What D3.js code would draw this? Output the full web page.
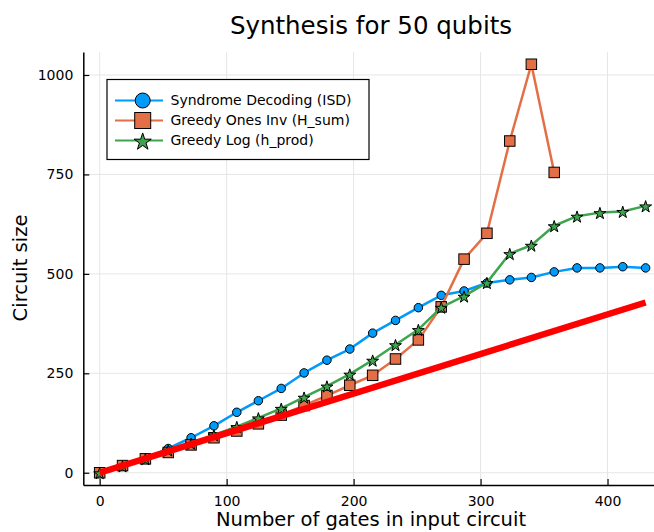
<!DOCTYPE html>
<html>
<head>
<meta charset="utf-8">
<script src="https://cdn.jsdelivr.net/npm/d3@7.9.0/dist/d3.min.js"></script>
<style>
  body { margin: 0; background: #fff; }
  svg { display: block; font-family: "DejaVu Sans", sans-serif; }
</style>
</head>
<body>
<svg id="chart" width="654" height="532"></svg>
<script>
// ---- data ----
const gates = [0, 18, 36, 54, 72, 90, 108, 125, 143, 161, 179, 197, 215,
               233, 251, 269, 287, 305, 323, 340, 358, 376, 394, 412, 430];

const isdSize = [0, 17, 34, 61, 88, 118, 152, 181, 212, 251, 283, 311, 351,
                 383, 415, 446, 457, 477, 485, 491, 505, 515, 515, 518, 515];

const onesInvSize = [0, 18, 35, 51, 70, 88, 105, 123, 145, 169, 194, 220, 245,
                     286, 334, 417, 537, 602, 834, 1027, 755];

const logSize = [0, 17, 35, 57, 74, 95, 116, 138, 162, 190, 218, 248, 283,
                 322, 360, 416, 444, 478, 551, 572, 621, 645, 654, 657, 671];

const refX = [0, 430];
const refY = [0, 428];

const xTicks = [0, 100, 200, 300, 400];
const yTicks = [0, 250, 500, 750, 1000];

const series = [
  { name: "Syndrome Decoding (ISD)", color: "#009AFA", marker: "circle", y: isdSize },
  { name: "Greedy Ones Inv (H_sum)", color: "#E36F47", marker: "square", y: onesInvSize },
  { name: "Greedy Log (h_prod)", color: "#3EA44E", marker: "star", y: logSize }
];

// ---- layout ----
const svg = d3.select("#chart");
const plotLeft = 83.3, plotBottom = 485, plotTop = 52, plotRight = 662;

// Plots.jl style: widen data range by 3% each side
const x = d3.scaleLinear().domain([-12.9, 442.9]).range([plotLeft, plotRight]);
const y = d3.scaleLinear().domain([-30.8, 1057.8]).range([plotBottom, plotTop]);

// grid
svg.append("g")
  .selectAll("line")
  .data(xTicks)
  .join("line")
  .attr("x1", d => x(d)).attr("x2", d => x(d))
  .attr("y1", plotTop).attr("y2", plotBottom)
  .attr("stroke", "#e6e6e6").attr("stroke-width", 1);

svg.append("g")
  .selectAll("line")
  .data(yTicks)
  .join("line")
  .attr("x1", plotLeft).attr("x2", plotRight)
  .attr("y1", d => y(d)).attr("y2", d => y(d))
  .attr("stroke", "#e6e6e6").attr("stroke-width", 1);

// axes
const xAxis = svg.append("g")
  .attr("transform", `translate(0,${plotBottom})`)
  .call(d3.axisBottom(x).tickValues(xTicks).tickSize(-6).tickPadding(11).tickSizeOuter(0));
const yAxis = svg.append("g")
  .attr("transform", `translate(${plotLeft},0)`)
  .call(d3.axisLeft(y).tickValues(yTicks).tickFormat(d3.format("d"))
    .tickSize(-6).tickPadding(10).tickSizeOuter(0));

[xAxis, yAxis].forEach(a => {
  a.select(".domain").attr("stroke", "#000").attr("stroke-width", 1.5);
  a.selectAll(".tick line").attr("stroke", "#000").attr("stroke-width", 1.2);
  a.selectAll(".tick text")
    .attr("fill", "#000")
    .style("font-family", "DejaVu Sans, sans-serif")
    .style("font-size", "14px");
});

// markers
const star = d3.symbol().type(d3.symbolStar);
function drawMarker(g, type, cx, cy, s) {
  if (type === "circle") {
    g.append("circle").attr("cx", cx).attr("cy", cy).attr("r", s / 2);
  } else if (type === "square") {
    g.append("rect").attr("x", cx - s / 2).attr("y", cy - s / 2)
      .attr("width", s).attr("height", s);
  } else {
    // s = outer diameter of the star
    g.append("path").attr("transform", `translate(${cx},${cy + s * 0.08})`)
      .attr("d", star.size((s / 2) * (s / 2) / 0.8908)());
  }
}
const markerSize = { circle: 8.5, square: 10.5, star: 12.5 };

const line = d3.line().x(d => x(d[0])).y(d => y(d[1]));

series.forEach(s => {
  const pts = s.y.map((v, i) => [gates[i], v]);
  svg.append("path")
    .attr("d", line(pts))
    .attr("fill", "none")
    .attr("stroke", s.color)
    .attr("stroke-width", 2.5)
    .attr("stroke-linejoin", "round");
  const mg = svg.append("g")
    .attr("fill", s.color)
    .attr("stroke", "#000")
    .attr("stroke-width", 1);
  pts.forEach(p => drawMarker(mg, s.marker, x(p[0]), y(p[1]), markerSize[s.marker]));
});

// reference line
svg.append("path")
  .attr("d", line(refX.map((v, i) => [v, refY[i]])))
  .attr("fill", "none")
  .attr("stroke", "#FF0000")
  .attr("stroke-width", 6.5);

// legend
const lg = svg.append("g");
lg.append("rect")
  .attr("x", 107).attr("y", 79.5)
  .attr("width", 262).attr("height", 80)
  .attr("fill", "#fff").attr("stroke", "#000").attr("stroke-width", 1.2);

series.forEach((s, i) => {
  const ly = 100.5 + i * 20;
  lg.append("line")
    .attr("x1", 115).attr("x2", 163).attr("y1", ly).attr("y2", ly)
    .attr("stroke", s.color).attr("stroke-width", 2);
  const mg = lg.append("g").attr("fill", s.color).attr("stroke", "#000").attr("stroke-width", 1);
  drawMarker(mg, s.marker, 142.7, ly, { circle: 15, square: 16, star: 18 }[s.marker]);
  lg.append("text")
    .attr("x", 170.5).attr("y", ly).attr("dy", "0.35em")
    .style("font-size", "14px")
    .text(s.name);
});

// titles
svg.append("text")
  .attr("x", 371).attr("y", 34)
  .attr("text-anchor", "middle")
  .style("font-size", "24.5px")
  .text("Synthesis for 50 qubits");

svg.append("text")
  .attr("x", 371).attr("y", 526)
  .attr("text-anchor", "middle")
  .style("font-size", "19.5px")
  .text("Number of gates in input circuit");

svg.append("text")
  .attr("transform", "translate(27,268) rotate(-90)")
  .attr("text-anchor", "middle")
  .style("font-size", "19.5px")
  .text("Circuit size");
</script>
</body>
</html>
